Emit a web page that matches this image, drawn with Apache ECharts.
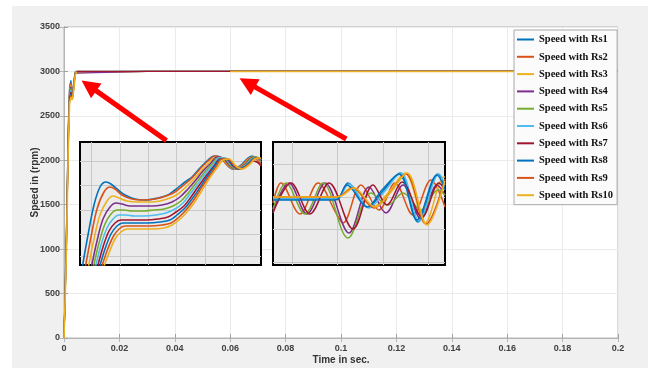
<!DOCTYPE html>
<html>
<head>
<meta charset="utf-8">
<script src="https://cdn.jsdelivr.net/npm/echarts@6.0.0/dist/echarts.min.js"></script>
<style>
html, body { margin: 0; padding: 0; background: #fff; }
#panel { position: absolute; left: 12px; top: 6px; width: 636px; height: 362px; background: #f0f0f0; }
#container { position: absolute; left: 0; top: 0; width: 654px; height: 374px; }
</style>
</head>
<body>
<div id="panel"></div>
<div id="container"></div>
<script>
var names = ['Speed with Rs1', 'Speed with Rs2', 'Speed with Rs3', 'Speed with Rs4', 'Speed with Rs5',
             'Speed with Rs6', 'Speed with Rs7', 'Speed with Rs8', 'Speed with Rs9', 'Speed with Rs10'];
var colors = ['#0072BD', '#D95319', '#EDB120', '#7E2F8E', '#77AC30', '#4DBEEE', '#A2142F', '#0072BD', '#D95319', '#EDB120'];

// main plot: time (s) and speed (rpm)
var mainTime = [0, 0.0005, 0.001, 0.0015, 0.002, 0.0025, 0.003, 0.0035, 0.004, 0.0045, 0.03, 0.06, 0.2];
var mainSpeed = [
    [0, 700, 1420, 2350, 2830, 2900, 2740, 2880, 2995, 3000, 3000, 3000, 3000],
    [0, 680, 1390, 2320, 2800, 2870, 2730, 2870, 2990, 3000, 3000, 3000, 3000],
    [0, 660, 1360, 2290, 2780, 2850, 2720, 2860, 2985, 3000, 3000, 3000, 3000],
    [0, 640, 1330, 2260, 2760, 2830, 2710, 2850, 2980, 3000, 3000, 3000, 3000],
    [0, 620, 1300, 2230, 2740, 2810, 2700, 2840, 2975, 3000, 3000, 3000, 3000],
    [0, 600, 1270, 2200, 2720, 2790, 2700, 2830, 2970, 3000, 3000, 3000, 3000],
    [0, 580, 1240, 2170, 2700, 2770, 2690, 2820, 2965, 3000, 3000, 3000, 3000],
    [0, 560, 1210, 2140, 2680, 2750, 2690, 2810, 2960, 3000, null, 3000, 3000],
    [0, 540, 1180, 2110, 2660, 2730, 2680, 2800, 2955, 3000, null, 3000, 3000],
    [0, 520, 1150, 2080, 2640, 2710, 2680, 2790, 2950, 3000, null, 3000, 3000]
];
var xTicks = [0, 0.02, 0.04, 0.06, 0.08, 0.1, 0.12, 0.14, 0.16, 0.18, 0.2];
var yTicks = [0, 500, 1000, 1500, 2000, 2500, 3000, 3500];

// zoom 1: start-up transient, in zoomed units
var zoom1 = [
    [[2,-4],[8,30],[14,60],[20,78],[26,83],[31,81],[37,76],[45,70],[55,66],[65,65],[78,67],[88,70],[95,75],[105,83],[112,88],[120,97],[128,105],[134,109],[140,108],[147,100],[153,96],[160,99],[167,106],[172,109],[177,106],[181,101]],
    [[5,-4],[11,28],[17,56],[24,73],[30,78],[35,76],[42,70],[52,66],[62,65],[75,66],[86,69],[95,73],[105,81],[112,87],[120,96],[128,104],[135,109],[141,107],[148,99],[154,96],[161,99],[168,106],[173,108],[178,104],[181,100]],
    [[8,-4],[14,26],[20,50],[27,64],[33,69],[39,67],[47,64],[58,63],[70,63],[80,64],[90,67],[98,71],[107,79],[114,86],[122,95],[130,103],[136,108],[142,107],[149,99],[155,96],[162,99],[169,106],[174,108],[179,105],[181,103]],
    [[11,-4],[17,24],[23,46],[30,58],[36,62],[42,61],[50,59],[60,59],[72,59],[82,60],[92,63],[100,68],[108,76],[115,84],[123,94],[131,102],[137,108],[143,107],[150,99],[156,96],[163,99],[170,106],[175,108],[181,104]],
    [[13,-4],[19,22],[25,41],[31,51],[37,55],[44,55],[52,54],[62,54],[74,55],[84,56],[93,59],[101,64],[109,73],[116,82],[124,92],[132,101],[138,107],[144,107],[151,99],[157,96],[164,99],[171,106],[176,108],[181,105]],
    [[15,-4],[21,20],[27,37],[33,46],[39,50],[46,50],[54,49],[64,49],[76,50],[86,52],[95,56],[103,62],[110,71],[117,80],[125,91],[133,100],[139,107],[145,107],[152,99],[158,96],[165,99],[172,106],[177,107],[181,105]],
    [[17,-4],[23,18],[29,34],[35,42],[41,45],[48,45],[56,45],[66,45],[78,46],[88,48],[96,53],[104,59],[111,68],[118,78],[126,89],[134,99],[140,106],[146,106],[153,99],[159,96],[166,99],[172,104],[177,103],[181,99]],
    [[19,-4],[25,16],[31,31],[37,39],[43,42],[50,42],[58,42],[68,42],[80,43],[90,45],[97,50],[105,57],[112,66],[119,76],[127,88],[135,99],[141,106],[147,106],[154,99],[160,96],[167,100],[173,106],[178,107],[181,105]],
    [[21,-4],[27,14],[33,28],[39,36],[45,39],[52,39],[60,39],[70,39],[82,40],[91,42],[98,47],[106,55],[113,64],[120,75],[128,87],[136,98],[142,106],[148,106],[155,99],[161,96],[168,100],[174,106],[179,107],[181,106]],
    [[23,-4],[29,12],[35,26],[41,33],[47,36],[54,36],[62,36],[72,36],[84,37],[92,40],[99,45],[107,53],[114,62],[121,73],[129,86],[137,97],[143,105],[149,106],[156,99],[162,96],[169,100],[175,106],[180,107],[181,107]]
];
var zoom1GridX = [11.7, 40, 68.3, 96.7, 125, 153.3];
var zoom1GridY = [8.3, 31, 55, 79.3, 103.3];

// zoom 2: oscillation around 0.06 s, in zoomed units
var zoom2 = [
    [[0,66],[62,66],[66,67],[75,82],[95,58],[110,74],[127,92],[145,43],[165,91],[172,78]],
    [[0,62],[8,82],[27,51],[45,82],[63,52],[70,42],[88,80],[106,55],[122,82],[140,50],[158,85],[172,58]],
    [[0,68],[63,68],[69,70],[79,78],[100,58],[115,72],[132,92],[152,42],[171,88],[172,88]],
    [[0,54],[16,82],[34,51],[52,82],[76,32],[96,78],[113,52],[130,80],[148,46],[164,80],[172,70]],
    [[0,56],[13,82],[32,51],[50,82],[75,27],[98,72],[115,60],[130,72],[148,55],[165,75],[172,70]],
    [[0,66],[62,66],[67,68],[76,81],[96,57],[111,73],[128,92],[146,44],[166,91],[172,80]],
    [[0,52],[18,82],[37,51],[56,82],[80,36],[100,80],[114,60],[129,83],[149,48],[166,82],[172,75]],
    [[0,65],[62,65],[66,67],[74,80],[94,58],[109,75],[126,91],[144,45],[164,90],[172,75]],
    [[0,68],[63,68],[69,70],[80,77],[101,57],[116,71],[133,91],[153,41],[172,86]],
    [[0,68],[64,68],[70,70],[81,77],[102,58],[117,72],[134,92],[154,40],[172,84]]
];
var zoom2GridX = [19, 64.3, 110, 155];
var zoom2GridY = [3.2, 35.7, 68.2, 100.7];

// arrows from the zoom boxes to the curve (time, speed)
var arrows = [
    [[0.0370, 2221], [0.0090, 2840]],
    [[0.1019, 2240], [0.0662, 2874]]
];

var myChart = echarts.init(document.getElementById('container'));
var font = 'Liberation Sans';
var tickText = { fontFamily: font, fontSize: 9, fontWeight: 'bold', color: '#404040' };

function insetAxes(gi, max, grid) {
    return {
        gridIndex: gi, type: 'value', min: 0, max: max, z: 2,
        axisLine: { show: false }, axisLabel: { show: false },
        axisTick: { show: false, customValues: grid },
        splitLine: { show: true, lineStyle: { color: '#c9c9c9', width: 1 } }
    };
}

var series = [];
names.forEach(function (n, i) {
    series.push({
        name: n, type: 'line', xAxisIndex: 0, yAxisIndex: 0, symbol: 'none',
        lineStyle: { width: i === 9 ? 1.6 : 1.2, color: colors[i] }, itemStyle: { color: colors[i] },
        data: mainTime.map(function (t, j) { return [t, mainSpeed[i][j]]; })
    });
});
names.forEach(function (n, i) {
    series.push({
        name: n, type: 'line', xAxisIndex: 2, yAxisIndex: 2, symbol: 'none', smooth: 0.35, z: 3,
        lineStyle: { width: 1.6, color: colors[i] }, itemStyle: { color: colors[i] },
        data: zoom1[i]
    });
});
names.forEach(function (n, i) {
    series.push({
        name: n, type: 'line', xAxisIndex: 3, yAxisIndex: 3, symbol: 'none', smooth: 0.35, z: 3,
        lineStyle: { width: 1.5, color: colors[i] }, itemStyle: { color: colors[i] },
        data: zoom2[i]
    });
});
series.push({
    name: 'arrows', type: 'line', xAxisIndex: 0, yAxisIndex: 0, data: [], z: 5,
    markLine: {
        silent: true, symbol: ['none', 'triangle'], symbolSize: [18, 18],
        label: { show: false },
        lineStyle: { color: '#ff0000', width: 5, type: 'solid' },
        data: arrows.map(function (a) { return [{ coord: a[0] }, { coord: a[1] }]; })
    }
});

option = {
    animation: false,
    backgroundColor: 'transparent',
    color: colors,
    grid: [
        { left: 64, right: 36, top: 27, bottom: 36, show: true, backgroundColor: '#fff', borderColor: '#b5b5b5', borderWidth: 1 },
        { left: 80, top: 142, width: 181, height: 123, show: true, z: 1, backgroundColor: '#ebebeb', borderColor: '#000', borderWidth: 2 },
        { left: 273, top: 142, width: 172, height: 123, show: true, z: 1, backgroundColor: '#ebebeb', borderColor: '#000', borderWidth: 2 }
    ],
    legend: {
        data: names, orient: 'vertical', left: 514, top: 30, selectedMode: false,
        backgroundColor: '#fbfbfb', borderColor: '#a8a8a8', borderWidth: 1,
        padding: [3, 4, 3, 3], itemGap: 4.3, itemWidth: 17, itemHeight: 2, icon: 'rect',
        textStyle: { fontFamily: 'Liberation Serif', fontWeight: 'bold', fontSize: 10.5, color: '#111', lineHeight: 13 }
    },
    xAxis: [
        {
            gridIndex: 0, type: 'value', min: 0, max: 0.2, interval: 0.02,
            name: 'Time in sec.', nameLocation: 'middle', nameGap: 17, nameMoveOverlap: false,
            nameTextStyle: { fontFamily: font, fontSize: 10, fontWeight: 'bold', color: '#333' },
            axisLine: { lineStyle: { color: '#a0a0a0' } },
            axisTick: { inside: true, length: 4, lineStyle: { color: '#a0a0a0' } },
            axisLabel: Object.assign({ margin: 6 }, tickText),
            splitLine: { show: true, lineStyle: { color: '#ebebeb' } }
        },
        {
            gridIndex: 0, type: 'value', min: 0, max: 0.2, interval: 0.02, position: 'top',
            axisLine: { lineStyle: { color: '#b5b5b5' } },
            axisTick: { inside: true, length: 4, lineStyle: { color: '#b5b5b5' } },
            axisLabel: { show: false }, splitLine: { show: false }
        },
        insetAxes(1, 181, zoom1GridX),
        insetAxes(2, 172, zoom2GridX)
    ],
    yAxis: [
        {
            gridIndex: 0, type: 'value', min: 0, max: 3500, interval: 500,
            name: 'Speed in (rpm)', nameLocation: 'middle', nameGap: 24, nameMoveOverlap: false,
            nameTextStyle: { fontFamily: font, fontSize: 10, fontWeight: 'bold', color: '#333' },
            axisLine: { show: true, lineStyle: { color: '#a0a0a0' } },
            axisTick: { show: true, inside: true, length: 4, lineStyle: { color: '#a0a0a0' } },
            axisLabel: Object.assign({ margin: 4, formatter: function (v) { return String(v); } }, tickText),
            splitLine: { show: true, lineStyle: { color: '#ebebeb' } }
        },
        {
            gridIndex: 0, type: 'value', min: 0, max: 3500, interval: 500, position: 'right',
            axisLine: { show: true, lineStyle: { color: '#b5b5b5' } },
            axisTick: { show: true, inside: true, length: 4, lineStyle: { color: '#b5b5b5' } },
            axisLabel: { show: false }, splitLine: { show: false }
        },
        insetAxes(1, 123, zoom1GridY),
        insetAxes(2, 123, zoom2GridY)
    ],
    series: series
};

if (option && typeof option === "object") {
    myChart.setOption(option, true);
}
</script>
</body>
</html>
